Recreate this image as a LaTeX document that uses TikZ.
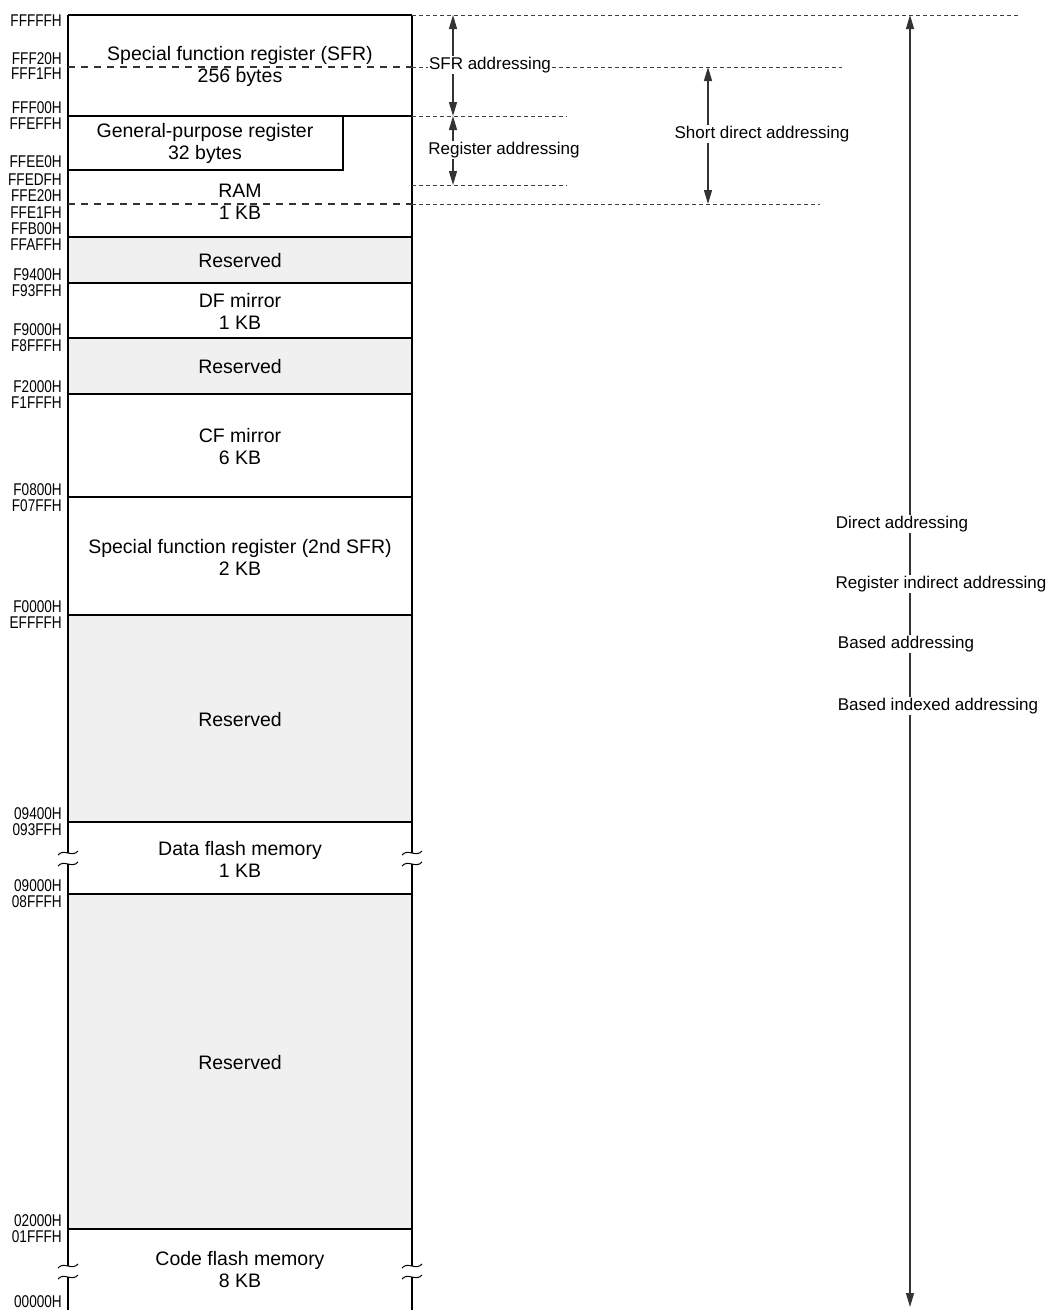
\documentclass[tikz,border=0pt]{standalone}
\usepackage{fontspec}
\setmainfont{Liberation Sans}
\newfontfamily\addrfont[FakeStretch=0.8]{Liberation Sans}
\usetikzlibrary{arrows.meta}
\begin{document}
\begin{tikzpicture}[x=1pt,y=-1pt,
  memline/.style={draw=black,line width=1.6pt},
  resfill/.style={fill=black!6},
  indash/.style={draw=black!80,line width=1.2pt,dash pattern=on 7pt off 6pt},
  outdash/.style={draw=black!75,line width=1pt,dash pattern=on 4pt off 3pt},
  dimarrow/.style={draw=black!80,line width=1.3pt,{Triangle[length=14pt,width=8pt]}-{Triangle[length=14pt,width=8pt]}},
  addr/.style={anchor=east,inner sep=0pt,font=\addrfont\fontsize{17}{18}\selectfont},
  memtext/.style={align=center,inner sep=0pt,font=\fontsize{19.5}{22}\selectfont},
  dimtext/.style={fill=white,inner sep=1.5pt,font=\fontsize{17}{20}\selectfont},
  brk/.style={draw=black,line width=1pt}]
\useasboundingbox (0,0) rectangle (1047,1310);
% reserved fills
\fill[resfill] (68,237) rectangle (412,283);
\fill[resfill] (68,338) rectangle (412,394);
\fill[resfill] (68,615) rectangle (412,822);
\fill[resfill] (68,894) rectangle (412,1229);
% horizontal lines
\foreach \yy in {15,116,237,283,338,394,497,615,822,894,1229}
  \draw[memline] (68,\yy) -- (412,\yy);
% GPR box
\draw[memline] (68,170) -- (343,170) -- (343,116);
% vertical sides with break marks
\foreach \xx in {68,412}{
  \draw[memline] (\xx,15) -- (\xx,853);
  \draw[memline] (\xx,864) -- (\xx,1266);
  \draw[memline] (\xx,1277) -- (\xx,1310);
  \foreach \yb in {853,864,1266,1277}
    \draw[brk] (\xx-10,\yb+2) .. controls (\xx-4,\yb-5) and (\xx+4,\yb+5) .. (\xx+10,\yb-2);
}
% dashed lines inside
\draw[indash] (68,67) -- (412,67);
\draw[indash] (68,204) -- (412,204);
% dashed lines outside
\draw[outdash] (412,15) -- (1020,15);
\draw[outdash] (412,67) -- (842,67);
\draw[outdash] (412,116) -- (567,116);
\draw[outdash] (412,185) -- (567,185);
\draw[outdash] (412,204) -- (820,204);
% memory texts
\node[memtext] (sfr) at (240,66) {Special function register (SFR)\\256 bytes};
\node[memtext] (gpr) at (205,143) {General-purpose register\\32 bytes};
\node[memtext] (ram) at (240,201.5) {RAM\\1 KB};
\node[memtext] (res1) at (240,261) {Reserved};
\node[memtext] (dfm) at (240,311) {DF mirror\\1 KB};
\node[memtext] (res2) at (240,367) {Reserved};
\node[memtext] (cfm) at (240,447) {CF mirror\\6 KB};
\node[memtext] (sfr2) at (240,557.5) {Special function register (2nd SFR)\\2 KB};
\node[memtext] (res3) at (240,720) {Reserved};
\node[memtext] (dfl) at (240,859) {Data flash memory\\1 KB};
\node[memtext] (res4) at (240,1063) {Reserved};
\node[memtext] (cfl) at (240,1270) {Code flash memory\\8 KB};
% addresses
\node[addr] (a1) at (62,21) {FFFFFH};
\node[addr] (a2) at (62,58.5) {FFF20H};
\node[addr] (a3) at (62,74) {FFF1FH};
\node[addr] (a4) at (62,108) {FFF00H};
\node[addr] (a5) at (62,124) {FFEFFH};
\node[addr] (a6) at (62,162) {FFEE0H};
\node[addr] (a7) at (62,180) {FFEDFH};
\node[addr] (a8) at (62,196) {FFE20H};
\node[addr] (a9) at (62,213) {FFE1FH};
\node[addr] (a10) at (62,229) {FFB00H};
\node[addr] (a11) at (62,245) {FFAFFH};
\node[addr] (a12) at (62,275) {F9400H};
\node[addr] (a13) at (62,291) {F93FFH};
\node[addr] (a14) at (62,330) {F9000H};
\node[addr] (a15) at (62,346) {F8FFFH};
\node[addr] (a16) at (62,387) {F2000H};
\node[addr] (a17) at (62,403) {F1FFFH};
\node[addr] (a18) at (62,490) {F0800H};
\node[addr] (a19) at (62,506) {F07FFH};
\node[addr] (a20) at (62,607) {F0000H};
\node[addr] (a21) at (62,623) {EFFFFH};
\node[addr] (a22) at (62,814) {09400H};
\node[addr] (a23) at (62,830) {093FFH};
\node[addr] (a24) at (62,886) {09000H};
\node[addr] (a25) at (62,902) {08FFFH};
\node[addr] (a26) at (62,1221) {02000H};
\node[addr] (a27) at (62,1237) {01FFFH};
\node[addr] (a28) at (62,1302) {00000H};
% dimension arrows
\coordinate (sfrT) at (453,15);
\coordinate (sfrB) at (453,116);
\coordinate (regT) at (453,116);
\coordinate (regB) at (453,185);
\coordinate (sdT) at (708,67);
\coordinate (sdB) at (708,204);
\coordinate (allT) at (910,15);
\coordinate (allB) at (910,1307);
\draw[dimarrow] (sfrT) -- (sfrB);
\draw[dimarrow] (regT) -- (regB);
\draw[dimarrow] (sdT) -- (sdB);
\draw[dimarrow] (allT) -- (allB);
\node[dimtext] (lsfr) at (490,65) {SFR addressing};
\node[dimtext] (lreg) at (504,150) {Register addressing};
\node[dimtext] (lsd) at (762,134) {Short direct addressing};
\node[dimtext] (ld1) at (902,524) {Direct addressing};
\node[dimtext] (ld2) at (941,584) {Register indirect addressing};
\node[dimtext] (ld3) at (906,644) {Based addressing};
\node[dimtext] (ld4) at (938,706) {Based indexed addressing};
\end{tikzpicture}
\end{document}
